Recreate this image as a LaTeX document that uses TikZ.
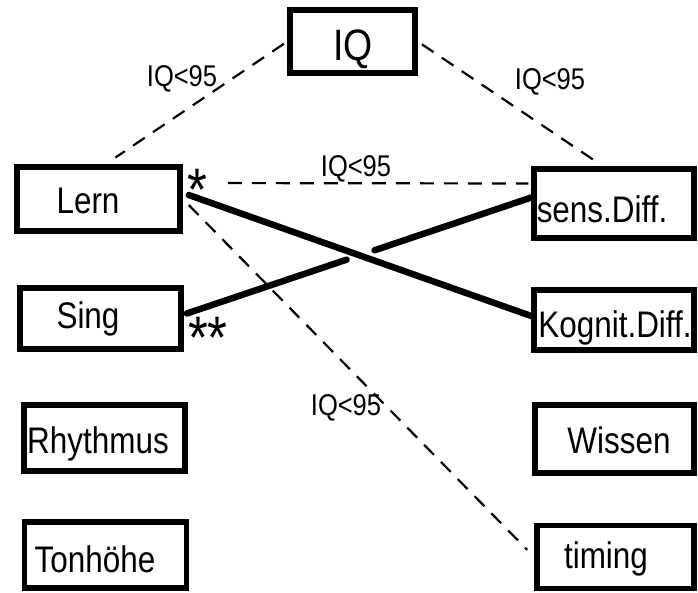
\documentclass[tikz,border=0pt]{standalone}
\usepackage{fontspec}
\setmainfont{Liberation Sans}
\newfontfamily\hand[FakeStretch=0.85]{Liberation Sans}
\usetikzlibrary{calc}
\begin{document}
\begin{tikzpicture}[x=1pt,y=-1pt,
  box/.style={draw, line width=5.5pt, inner sep=0pt},
  txt/.style={font=\hand\fontsize{37}{41}\selectfont, anchor=base, inner sep=0pt},
  lbl/.style={font=\hand\fontsize{30}{34}\selectfont, anchor=base, inner sep=0pt},
  star/.style={font=\hand\fontsize{60}{64}\selectfont, anchor=base, inner sep=0pt},
  dsh/.style={line width=2.2pt, dash pattern=on 14pt off 10pt},
  thk/.style={line width=6.5pt, line cap=round}]
\useasboundingbox (0,0) rectangle (698,592);

% boxes
\node[box, minimum width=125pt, minimum height=63pt] (iq)     at (352.5,41.5) {};
\node[box, minimum width=163pt, minimum height=64pt] (lern)   at (98.5,199) {};
\node[box, minimum width=161pt, minimum height=61pt] (sing)   at (100.5,318.5) {};
\node[box, minimum width=161pt, minimum height=66pt] (rhy)    at (104.5,438) {};
\node[box, minimum width=162pt, minimum height=66pt] (ton)    at (105.5,555) {};
\node[box, minimum width=160pt, minimum height=69pt] (sens)   at (614,203.5) {};
\node[box, minimum width=160pt, minimum height=60pt] (kog)    at (614,320) {};
\node[box, minimum width=159pt, minimum height=68pt] (wis)    at (614.5,439) {};
\node[box, minimum width=157pt, minimum height=63pt] (timing) at (615.5,557) {};

% box texts
\node[txt, font=\hand\fontsize{44}{48}\selectfont] (iqT) at (353,60) {IQ};
\node[txt] (lernT) at (88,213)  {Lern};
\node[txt] (singT) at (88,328)  {Sing};
\node[txt] (rhyT)  at (98,453)  {Rhythmus};
\node[txt] (tonT)  at (95,572)  {Tonhöhe};
\node[txt] (sensT) at (602,222) {sens.Diff.};
\node[txt] (kogT)  at (615,337) {Kognit.Diff.};
\node[txt] (wisT)  at (619,453) {Wissen};
\node[txt] (timT)  at (606,568) {timing};

% dashed connectors
\draw[dsh, shorten <=4pt, shorten >=12pt] (iq.west) -- ([xshift=7pt]lern.north);
\draw[dsh, shorten <=5pt, shorten >=8pt] (iq.east) -- ([xshift=-11pt]sens.north);
\draw[dsh, shorten <=45pt, shorten >=3pt] ([yshift=16pt]lern.east) -- ([yshift=20pt]sens.west);
\draw[dsh, shorten >=10pt] ([xshift=6pt,yshift=-6pt]lern.east) -- (timing.west);

% thick connectors
\coordinate (k1) at ([xshift=6pt,yshift=4pt]lern.east);
\coordinate (k2) at ([yshift=4pt]kog.west);
\coordinate (s1) at ([xshift=3pt,yshift=5pt]sing.east);
\coordinate (s2) at ([yshift=6pt]sens.west);
\draw[thk] (k1) -- (k2);
\draw[thk] (s1) -- ($(s1)!0.464!(s2)$);
\draw[thk] ($(s1)!0.545!(s2)$) -- (s2);

% labels
\node[lbl] (c1) at (182,86)  {IQ<95};
\node[lbl] (c2) at (550,89)  {IQ<95};
\node[lbl] (c3) at (356,176) {IQ<95};
\node[lbl] (c4) at (346,415) {IQ<95};
\node[star] (st1) at (197,210) {*};
\node[star] (st2) at (208,358) {**};
\end{tikzpicture}
\end{document}
